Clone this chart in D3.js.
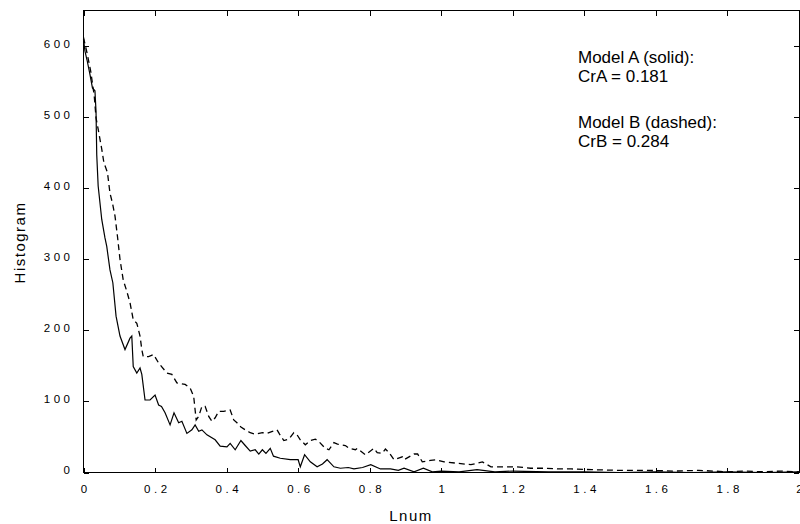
<!DOCTYPE html>
<html>
<head>
<meta charset="utf-8">
<script src="https://cdn.jsdelivr.net/npm/d3@7"></script>
<style>
  body { margin: 0; background: #fff; }
  svg { display: block; }
  .tick text { font-family: "Liberation Sans", Arial, sans-serif; font-size: 11.5px; letter-spacing: 3.5px; fill: #000; }
  .domain, .tick line { stroke: #000; shape-rendering: crispEdges; }
  .note { font-family: "Liberation Sans", Arial, sans-serif; font-size: 17px; fill: #000; }
  .axlabel { font-family: "Liberation Sans", Arial, sans-serif; font-size: 15px; fill: #000; }
</style>
</head>
<body>
<svg id="chart"></svg>
<script>
// ---- data ----
const xTicks = [0, 0.2, 0.4, 0.6, 0.8, 1, 1.2, 1.4, 1.6, 1.8, 2];
const yTicks = [0, 100, 200, 300, 400, 500, 600];

// Model A (solid)
const solidLnum = [0, 0.004, 0.01, 0.018, 0.025, 0.032, 0.035, 0.037, 0.041, 0.051, 0.06, 0.065, 0.074,
  0.082, 0.091, 0.102, 0.116, 0.13, 0.135, 0.139, 0.149, 0.158, 0.163, 0.172, 0.186, 0.2, 0.21, 0.218,
  0.228, 0.242, 0.253, 0.266, 0.275, 0.289, 0.303, 0.312, 0.322, 0.331, 0.345, 0.368, 0.382, 0.401,
  0.41, 0.424, 0.44, 0.452, 0.466, 0.48, 0.49, 0.5, 0.51, 0.522, 0.531, 0.55, 0.578, 0.6, 0.606, 0.618,
  0.634, 0.653, 0.668, 0.681, 0.7, 0.718, 0.74, 0.756, 0.78, 0.803, 0.83, 0.858, 0.88, 0.896, 0.924,
  0.95, 0.975, 1.0, 1.05, 1.1, 1.15, 1.2, 1.3, 1.4, 1.5, 1.6, 1.7, 1.8, 1.9, 2.0];
const solidCount = [610, 593, 580, 560, 541, 537, 508, 447, 403, 356, 330, 318, 285,
  267, 220, 192, 173, 189, 192, 149, 140, 147, 138, 102, 102, 109, 95, 93,
  84, 67, 84, 70, 72, 55, 60, 67, 58, 60, 53, 46, 37, 36,
  41, 32, 45, 38, 30, 32, 26, 32, 27, 34, 23, 20, 18, 18, 8, 25,
  15, 8, 12, 18, 8, 6, 7, 5, 7, 11, 5, 5, 3, 6, 1,
  6, 1, 2, 1, 4, 1, 2, 1, 1, 0, 1, 0, 1, 0, 1];

// Model B (dashed)
const dashedLnum = [0, 0.01, 0.02, 0.03, 0.035, 0.041, 0.051, 0.057, 0.067, 0.074, 0.081, 0.088, 0.095,
  0.102, 0.111, 0.121, 0.13, 0.139, 0.149, 0.158, 0.163, 0.167, 0.182, 0.196, 0.21, 0.233, 0.247, 0.261,
  0.284, 0.298, 0.308, 0.312, 0.315, 0.322, 0.331, 0.34, 0.35, 0.359, 0.368, 0.378, 0.392, 0.41, 0.42,
  0.429, 0.44, 0.452, 0.466, 0.48, 0.5, 0.513, 0.528, 0.541, 0.548, 0.56, 0.574, 0.588, 0.597, 0.606,
  0.62, 0.634, 0.648, 0.657, 0.676, 0.686, 0.7, 0.71, 0.732, 0.742, 0.76, 0.765, 0.788, 0.812, 0.821,
  0.835, 0.844, 0.854, 0.868, 0.891, 0.896, 0.924, 0.934, 0.947, 0.97, 0.985, 1.008, 1.045, 1.083,
  1.115, 1.139, 1.176, 1.21, 1.25, 1.288, 1.325, 1.363, 1.42, 1.5, 1.58, 1.65, 1.72, 1.8, 1.85, 1.9, 1.95, 2.0];
const dashedCount = [612, 590, 565, 530, 499, 483, 455, 436, 422, 393, 379, 361, 332,
  300, 271, 255, 239, 215, 210, 192, 173, 163, 163, 166, 154, 140, 138, 126,
  124, 119, 107, 88, 74, 79, 93, 93, 79, 72, 77, 86, 86, 88, 74,
  70, 64, 60, 56, 54, 56, 55, 58, 60, 54, 45, 47, 56, 53, 46,
  39, 45, 47, 44, 34, 32, 42, 40, 38, 34, 32, 34, 25, 34, 28,
  27, 33, 28, 18, 22, 18, 26, 26, 15, 17, 18, 15, 13, 11,
  15, 8, 8, 8, 6, 6, 5, 5, 4, 3, 3, 2, 3, 1, 2, 1, 2, 1];

const notes = ["Model A (solid):", "CrA = 0.181", "Model B (dashed):", "CrB = 0.284"];

// ---- layout ----
const width = 800, height = 524;
const plotLeft = 83.5, plotRight = 799, plotTop = 10.5, plotBottom = 472.5;

const svg = d3.select("#chart").attr("width", width).attr("height", height);

const x = d3.scaleLinear().domain([0, 2]).range([plotLeft, plotRight]);
const y = d3.scaleLinear().domain([0, 650]).range([plotBottom, plotTop]);

// axes with inward ticks (box style)
svg.append("g")
  .attr("transform", `translate(0,${plotBottom})`)
  .call(d3.axisBottom(x).tickValues(xTicks).tickSize(-5).tickPadding(12).tickFormat(d3.format("~g")))
  .call(g => g.selectAll("text").attr("dx", "0.15em"));

svg.append("g")
  .attr("transform", `translate(0,${plotTop})`)
  .call(d3.axisTop(x).tickValues(xTicks).tickSize(-5).tickFormat(""));

svg.append("g")
  .attr("transform", `translate(${plotLeft},0)`)
  .call(d3.axisLeft(y).tickValues(yTicks).tickSize(-5).tickPadding(10))
  .call(g => g.selectAll("text").attr("dy", "0.1em"));

svg.append("g")
  .attr("transform", `translate(${plotRight},0)`)
  .call(d3.axisRight(y).tickValues(yTicks).tickSize(-5).tickFormat(""));

svg.selectAll(".domain").remove();
svg.append("rect")
  .attr("x", plotLeft).attr("y", plotTop)
  .attr("width", plotRight - plotLeft).attr("height", plotBottom - plotTop)
  .attr("fill", "none").attr("stroke", "#000")
  .style("shape-rendering", "crispEdges");

// curves
const line = d3.line().x(d => x(d[0])).y(d => y(d[1]));

svg.append("path")
  .datum(d3.zip(solidLnum, solidCount))
  .attr("d", line)
  .attr("fill", "none").attr("stroke", "#000").attr("stroke-width", 1.2);

svg.append("path")
  .datum(d3.zip(dashedLnum, dashedCount))
  .attr("d", line)
  .attr("fill", "none").attr("stroke", "#000").attr("stroke-width", 1.3)
  .attr("stroke-dasharray", "6,4");

// axis labels
svg.append("text").attr("class", "axlabel")
  .attr("x", 411).attr("y", 521)
  .attr("text-anchor", "middle")
  .style("letter-spacing", "1.5px")
  .text("Lnum");

svg.append("text").attr("class", "axlabel")
  .attr("transform", `translate(25,${(plotTop + plotBottom) / 2 + 1}) rotate(-90)`)
  .attr("text-anchor", "middle")
  .style("letter-spacing", "1.5px")
  .text("Histogram");

// annotation
const noteY = [63, 82, 128, 147];
svg.selectAll(".note").data(notes).enter().append("text")
  .attr("class", "note")
  .attr("x", 578)
  .attr("y", (d, i) => noteY[i])
  .text(d => d);
</script>
</body>
</html>
